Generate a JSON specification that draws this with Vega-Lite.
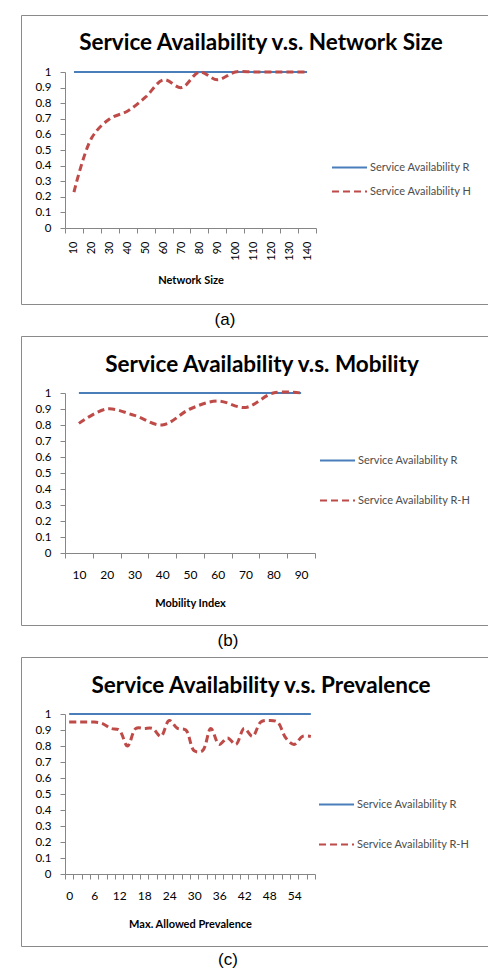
{
  "$schema": "https://vega.github.io/schema/vega-lite/v6.json",
  "padding": {"left": 14, "top": 14, "right": 0, "bottom": 0},
  "spacing": 7,
  "resolve": {"scale": {"color": "independent", "strokeDash": "independent"}, "legend": {"color": "independent", "strokeDash": "independent"}},
  "datasets": {
    "netsize": [
      {"network_size": 10, "availability": 1, "series": "Service Availability R"},
      {"network_size": 20, "availability": 1, "series": "Service Availability R"},
      {"network_size": 30, "availability": 1, "series": "Service Availability R"},
      {"network_size": 40, "availability": 1, "series": "Service Availability R"},
      {"network_size": 50, "availability": 1, "series": "Service Availability R"},
      {"network_size": 60, "availability": 1, "series": "Service Availability R"},
      {"network_size": 70, "availability": 1, "series": "Service Availability R"},
      {"network_size": 80, "availability": 1, "series": "Service Availability R"},
      {"network_size": 90, "availability": 1, "series": "Service Availability R"},
      {"network_size": 100, "availability": 1, "series": "Service Availability R"},
      {"network_size": 110, "availability": 1, "series": "Service Availability R"},
      {"network_size": 120, "availability": 1, "series": "Service Availability R"},
      {"network_size": 130, "availability": 1, "series": "Service Availability R"},
      {"network_size": 140, "availability": 1, "series": "Service Availability R"},
      {"network_size": 10, "availability": 0.23, "series": "Service Availability H"},
      {"network_size": 20, "availability": 0.58, "series": "Service Availability H"},
      {"network_size": 30, "availability": 0.70, "series": "Service Availability H"},
      {"network_size": 40, "availability": 0.75, "series": "Service Availability H"},
      {"network_size": 50, "availability": 0.84, "series": "Service Availability H"},
      {"network_size": 60, "availability": 0.95, "series": "Service Availability H"},
      {"network_size": 70, "availability": 0.90, "series": "Service Availability H"},
      {"network_size": 80, "availability": 1.0, "series": "Service Availability H"},
      {"network_size": 90, "availability": 0.95, "series": "Service Availability H"},
      {"network_size": 100, "availability": 1.0, "series": "Service Availability H"},
      {"network_size": 110, "availability": 1.0, "series": "Service Availability H"},
      {"network_size": 120, "availability": 1.0, "series": "Service Availability H"},
      {"network_size": 130, "availability": 1.0, "series": "Service Availability H"},
      {"network_size": 140, "availability": 1.0, "series": "Service Availability H"}
    ],
    "mobility": [
      {"mobility_index": 10, "availability": 1, "series": "Service Availability R"},
      {"mobility_index": 20, "availability": 1, "series": "Service Availability R"},
      {"mobility_index": 30, "availability": 1, "series": "Service Availability R"},
      {"mobility_index": 40, "availability": 1, "series": "Service Availability R"},
      {"mobility_index": 50, "availability": 1, "series": "Service Availability R"},
      {"mobility_index": 60, "availability": 1, "series": "Service Availability R"},
      {"mobility_index": 70, "availability": 1, "series": "Service Availability R"},
      {"mobility_index": 80, "availability": 1, "series": "Service Availability R"},
      {"mobility_index": 90, "availability": 1, "series": "Service Availability R"},
      {"mobility_index": 10, "availability": 0.81, "series": "Service Availability R-H"},
      {"mobility_index": 20, "availability": 0.90, "series": "Service Availability R-H"},
      {"mobility_index": 30, "availability": 0.86, "series": "Service Availability R-H"},
      {"mobility_index": 40, "availability": 0.80, "series": "Service Availability R-H"},
      {"mobility_index": 50, "availability": 0.90, "series": "Service Availability R-H"},
      {"mobility_index": 60, "availability": 0.95, "series": "Service Availability R-H"},
      {"mobility_index": 70, "availability": 0.91, "series": "Service Availability R-H"},
      {"mobility_index": 80, "availability": 1.0, "series": "Service Availability R-H"},
      {"mobility_index": 90, "availability": 1.0, "series": "Service Availability R-H"}
    ],
    "prevalence": [
      {"max_prevalence": 0, "availability": 1, "series": "Service Availability R"},
      {"max_prevalence": 2, "availability": 1, "series": "Service Availability R"},
      {"max_prevalence": 4, "availability": 1, "series": "Service Availability R"},
      {"max_prevalence": 6, "availability": 1, "series": "Service Availability R"},
      {"max_prevalence": 8, "availability": 1, "series": "Service Availability R"},
      {"max_prevalence": 10, "availability": 1, "series": "Service Availability R"},
      {"max_prevalence": 12, "availability": 1, "series": "Service Availability R"},
      {"max_prevalence": 14, "availability": 1, "series": "Service Availability R"},
      {"max_prevalence": 16, "availability": 1, "series": "Service Availability R"},
      {"max_prevalence": 18, "availability": 1, "series": "Service Availability R"},
      {"max_prevalence": 20, "availability": 1, "series": "Service Availability R"},
      {"max_prevalence": 22, "availability": 1, "series": "Service Availability R"},
      {"max_prevalence": 24, "availability": 1, "series": "Service Availability R"},
      {"max_prevalence": 26, "availability": 1, "series": "Service Availability R"},
      {"max_prevalence": 28, "availability": 1, "series": "Service Availability R"},
      {"max_prevalence": 30, "availability": 1, "series": "Service Availability R"},
      {"max_prevalence": 32, "availability": 1, "series": "Service Availability R"},
      {"max_prevalence": 34, "availability": 1, "series": "Service Availability R"},
      {"max_prevalence": 36, "availability": 1, "series": "Service Availability R"},
      {"max_prevalence": 38, "availability": 1, "series": "Service Availability R"},
      {"max_prevalence": 40, "availability": 1, "series": "Service Availability R"},
      {"max_prevalence": 42, "availability": 1, "series": "Service Availability R"},
      {"max_prevalence": 44, "availability": 1, "series": "Service Availability R"},
      {"max_prevalence": 46, "availability": 1, "series": "Service Availability R"},
      {"max_prevalence": 48, "availability": 1, "series": "Service Availability R"},
      {"max_prevalence": 50, "availability": 1, "series": "Service Availability R"},
      {"max_prevalence": 52, "availability": 1, "series": "Service Availability R"},
      {"max_prevalence": 54, "availability": 1, "series": "Service Availability R"},
      {"max_prevalence": 56, "availability": 1, "series": "Service Availability R"},
      {"max_prevalence": 58, "availability": 1, "series": "Service Availability R"},
      {"max_prevalence": 0, "availability": 0.95, "series": "Service Availability R-H"},
      {"max_prevalence": 2, "availability": 0.95, "series": "Service Availability R-H"},
      {"max_prevalence": 4, "availability": 0.95, "series": "Service Availability R-H"},
      {"max_prevalence": 6, "availability": 0.95, "series": "Service Availability R-H"},
      {"max_prevalence": 8, "availability": 0.94, "series": "Service Availability R-H"},
      {"max_prevalence": 10, "availability": 0.91, "series": "Service Availability R-H"},
      {"max_prevalence": 12, "availability": 0.90, "series": "Service Availability R-H"},
      {"max_prevalence": 14, "availability": 0.80, "series": "Service Availability R-H"},
      {"max_prevalence": 16, "availability": 0.91, "series": "Service Availability R-H"},
      {"max_prevalence": 18, "availability": 0.91, "series": "Service Availability R-H"},
      {"max_prevalence": 20, "availability": 0.91, "series": "Service Availability R-H"},
      {"max_prevalence": 22, "availability": 0.86, "series": "Service Availability R-H"},
      {"max_prevalence": 24, "availability": 0.96, "series": "Service Availability R-H"},
      {"max_prevalence": 26, "availability": 0.91, "series": "Service Availability R-H"},
      {"max_prevalence": 28, "availability": 0.90, "series": "Service Availability R-H"},
      {"max_prevalence": 30, "availability": 0.77, "series": "Service Availability R-H"},
      {"max_prevalence": 32, "availability": 0.77, "series": "Service Availability R-H"},
      {"max_prevalence": 34, "availability": 0.91, "series": "Service Availability R-H"},
      {"max_prevalence": 36, "availability": 0.81, "series": "Service Availability R-H"},
      {"max_prevalence": 38, "availability": 0.85, "series": "Service Availability R-H"},
      {"max_prevalence": 40, "availability": 0.81, "series": "Service Availability R-H"},
      {"max_prevalence": 42, "availability": 0.91, "series": "Service Availability R-H"},
      {"max_prevalence": 44, "availability": 0.86, "series": "Service Availability R-H"},
      {"max_prevalence": 46, "availability": 0.95, "series": "Service Availability R-H"},
      {"max_prevalence": 48, "availability": 0.96, "series": "Service Availability R-H"},
      {"max_prevalence": 50, "availability": 0.95, "series": "Service Availability R-H"},
      {"max_prevalence": 52, "availability": 0.85, "series": "Service Availability R-H"},
      {"max_prevalence": 54, "availability": 0.81, "series": "Service Availability R-H"},
      {"max_prevalence": 56, "availability": 0.86, "series": "Service Availability R-H"},
      {"max_prevalence": 58, "availability": 0.86, "series": "Service Availability R-H"}
    ]
  },
  "config": {
    "font": "Lato",
    "view": {"stroke": "#8a8a8a", "strokeWidth": 1},
    "axis": {
      "grid": false,
      "domainColor": "#868686",
      "tickColor": "#868686",
      "tickSize": 5,
      "labelColor": "#000000",
      "labelFont": "Lato",
      "labelFontSize": 12,
      "titleFont": "Lato",
      "titleFontSize": 11,
      "titleFontWeight": "bold",
      "titleColor": "#000000",
      "labelOverlap": false
    },
    "title": {"font": "Lato", "fontWeight": "bold", "fontSize": 22.5, "color": "#000000"},
    "legend": {
      "symbolType": "stroke",
      "symbolSize": 1225,
      "symbolStrokeWidth": 2,
      "labelFont": "Lato",
      "labelFontSize": 11,
      "labelColor": "#4d4d4d",
      "labelOffset": 2
    }
  },
  "vconcat": [
    {
      "title": {"text": "(a)", "orient": "bottom", "anchor": "middle", "offset": 7, "dx": -31, "font": "Liberation Sans", "fontSize": 17, "fontWeight": "normal", "color": "#000000"},
      "vconcat": [
        {
          "width": 476,
          "height": 289,
          "title": {"text": "Service Availability v.s. Network Size", "offset": -39, "anchor": "middle", "dx": 2},
          "data": {"name": "netsize"},
          "encoding": {
            "x": {
              "field": "network_size", "type": "ordinal",
              "scale": {"type": "band", "range": [44, 295], "paddingInner": 0, "paddingOuter": 0},
              "axis": {"title": "Network Size", "labelAngle": -90, "offset": -76, "tickBand": "extent", "labelPadding": 8, "titlePadding": 14, "labelFontSize": 11}
            },
            "y": {
              "field": "availability", "type": "quantitative",
              "scale": {"domain": [0, 1], "range": [213, 57], "nice": false},
              "axis": {"title": null, "offset": -44, "labelPadding": 9, "labelFontSize": 11.5, "values": [0, 0.1, 0.2, 0.3, 0.4, 0.5, 0.6, 0.7, 0.8, 0.9, 1], "format": ".1~f"}
            },
            "color": {
              "field": "series", "type": "nominal",
              "scale": {"domain": ["Service Availability R", "Service Availability H"], "range": ["#4a7ebb", "#be4b48"]},
              "legend": {"orient": "none", "legendX": 310, "legendY": 134, "title": null, "rowPadding": -11}
            },
            "strokeDash": {
              "field": "series", "type": "nominal",
              "scale": {"domain": ["Service Availability R", "Service Availability H"], "range": [[1, 0], [7, 4]]},
              "legend": {"orient": "none", "legendX": 310, "legendY": 134, "title": null, "rowPadding": -11}
            }
          },
          "layer": [
            {"transform": [{"filter": "datum.series === 'Service Availability R'"}], "mark": {"type": "line", "strokeWidth": 2}},
            {"transform": [{"filter": "datum.series !== 'Service Availability R'"}], "mark": {"type": "line", "strokeWidth": 3, "interpolate": "catmull-rom"}}
          ]
        }
      ]
    },
    {
      "title": {"text": "(b)", "orient": "bottom", "anchor": "middle", "offset": 7, "dx": -31, "font": "Liberation Sans", "fontSize": 17, "fontWeight": "normal", "color": "#000000"},
      "vconcat": [
        {
          "width": 476,
          "height": 289,
          "title": {"text": "Service Availability v.s. Mobility", "offset": -40, "anchor": "middle", "dx": 3},
          "data": {"name": "mobility"},
          "encoding": {
            "x": {
              "field": "mobility_index", "type": "ordinal",
              "scale": {"type": "band", "range": [44, 294], "paddingInner": 0, "paddingOuter": 0},
              "axis": {"title": "Mobility Index", "labelAngle": 0, "offset": -72, "tickBand": "extent", "labelPadding": 11, "titlePadding": 17}
            },
            "y": {
              "field": "availability", "type": "quantitative",
              "scale": {"domain": [0, 1], "range": [217, 57], "nice": false},
              "axis": {"title": null, "offset": -44, "labelPadding": 9, "labelFontSize": 11.5, "values": [0, 0.1, 0.2, 0.3, 0.4, 0.5, 0.6, 0.7, 0.8, 0.9, 1], "format": ".1~f"}
            },
            "color": {
              "field": "series", "type": "nominal",
              "scale": {"domain": ["Service Availability R", "Service Availability R-H"], "range": ["#4a7ebb", "#be4b48"]},
              "legend": {"orient": "none", "legendX": 298, "legendY": 106, "title": null, "rowPadding": 16}
            },
            "strokeDash": {
              "field": "series", "type": "nominal",
              "scale": {"domain": ["Service Availability R", "Service Availability R-H"], "range": [[1, 0], [7, 4]]},
              "legend": {"orient": "none", "legendX": 298, "legendY": 106, "title": null, "rowPadding": 16}
            }
          },
          "layer": [
            {"transform": [{"filter": "datum.series === 'Service Availability R'"}], "mark": {"type": "line", "strokeWidth": 2}},
            {"transform": [{"filter": "datum.series !== 'Service Availability R'"}], "mark": {"type": "line", "strokeWidth": 3, "interpolate": "catmull-rom"}}
          ]
        }
      ]
    },
    {
      "title": {"text": "(c)", "orient": "bottom", "anchor": "middle", "offset": 5, "dx": -31, "font": "Liberation Sans", "fontSize": 17, "fontWeight": "normal", "color": "#000000"},
      "vconcat": [
        {
          "width": 476,
          "height": 289,
          "title": {"text": "Service Availability v.s. Prevalence", "offset": -40, "anchor": "middle", "dx": 2},
          "data": {"name": "prevalence"},
          "encoding": {
            "x": {
              "field": "max_prevalence", "type": "ordinal",
              "scale": {"type": "band", "range": [44, 294], "paddingInner": 0, "paddingOuter": 0},
              "axis": {"title": "Max. Allowed Prevalence", "labelAngle": 0, "offset": -72, "tickBand": "extent", "labelPadding": 11, "titlePadding": 17, "labelExpr": "datum.value % 6 === 0 ? datum.label : ''"}
            },
            "y": {
              "field": "availability", "type": "quantitative",
              "scale": {"domain": [0, 1], "range": [217, 57], "nice": false},
              "axis": {"title": null, "offset": -44, "labelPadding": 9, "labelFontSize": 11.5, "values": [0, 0.1, 0.2, 0.3, 0.4, 0.5, 0.6, 0.7, 0.8, 0.9, 1], "format": ".1~f"}
            },
            "color": {
              "field": "series", "type": "nominal",
              "scale": {"domain": ["Service Availability R", "Service Availability R-H"], "range": ["#4a7ebb", "#be4b48"]},
              "legend": {"orient": "none", "legendX": 297, "legendY": 129, "title": null, "rowPadding": 16}
            },
            "strokeDash": {
              "field": "series", "type": "nominal",
              "scale": {"domain": ["Service Availability R", "Service Availability R-H"], "range": [[1, 0], [7, 4]]},
              "legend": {"orient": "none", "legendX": 297, "legendY": 129, "title": null, "rowPadding": 16}
            }
          },
          "layer": [
            {"transform": [{"filter": "datum.series === 'Service Availability R'"}], "mark": {"type": "line", "strokeWidth": 2}},
            {"transform": [{"filter": "datum.series !== 'Service Availability R'"}], "mark": {"type": "line", "strokeWidth": 3, "interpolate": "catmull-rom"}}
          ]
        }
      ]
    }
  ]
}
